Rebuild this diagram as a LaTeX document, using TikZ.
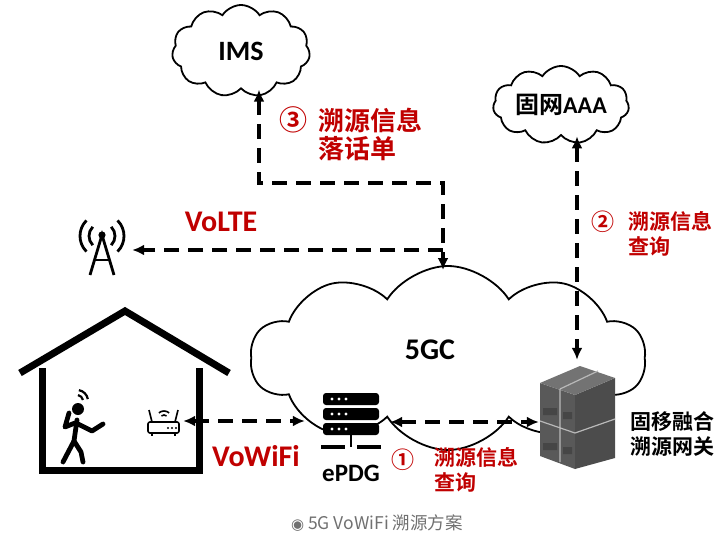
\documentclass[tikz,border=0pt]{standalone}
\usepackage{fontspec}
\setmainfont{Carlito}
\newfontfamily\cjkbf{Noto Sans CJK SC Bold}
\newfontfamily\cjk{Noto Sans CJK SC}
\newfontfamily\dejavu{DejaVu Sans}
\usetikzlibrary{shapes.symbols,arrows.meta,positioning,calc}

\definecolor{tracered}{HTML}{C00000}
\definecolor{capgray}{HTML}{707070}

\begin{document}
\begin{tikzpicture}[x=1pt,y=1pt,>={Latex[length=12pt,width=11pt]},
    netcloud/.style={cloud,draw,line width=1.8pt,fill=white,cloud puffs=#1,
      cloud puff arc=115,cloud ignores aspect,inner sep=0pt},
    netcloud/.default=11,
    link/.style={line width=3.4pt,dash pattern=on 15pt off 9pt},
    hint/.style={text=tracered,font=\cjkbf\fontsize{21}{25}\selectfont,align=left,inner sep=0pt},
    big/.style={font=\bfseries\fontsize{30}{30}\selectfont,inner sep=0pt},
    icon/.style={inner sep=0pt}]
  \useasboundingbox (0,0) rectangle (718,-535);

  % clouds
  \node[netcloud=10,minimum width=395,minimum height=184] (core) at (448,-358) {};
  \node[big] (corename) at (430,-350) {5GC};
  \node[netcloud,minimum width=138,minimum height=92] (ims) at (241,-51)
    {\bfseries\fontsize{28}{28}\selectfont IMS};
  \node[netcloud,minimum width=136,minimum height=78] (aaa) at (561,-105)
    {\cjkbf\fontsize{24}{24}\selectfont 固网{\rmfamily\bfseries AAA}};

  % base station
  \node[icon,minimum width=60,minimum height=62] (ant) at (102,-250) {};
  \begin{scope}[shift={(ant.center)},line width=2.8pt]
    \draw (-12,-25) -- (0,15) -- (12,-25);
    \draw (-7,-10) -- (7,-10);
    \fill (0,15) circle (3.6);
    \foreach \r in {13,22} {
      \draw ([shift={(135:\r)}]0,14) arc[start angle=135,end angle=225,radius=\r];
      \draw ([shift={(-45:\r)}]0,14) arc[start angle=-45,end angle=45,radius=\r];
    }
  \end{scope}

  % house with user and wifi router
  \draw[line width=7pt] (20,-373) -- (125,-311) -- (229,-373);
  \draw[line width=7pt] (42,-368) -- (42,-470) -- (199,-470) -- (199,-368);
  \begin{scope}[line width=4.8pt,line cap=round,line join=round]
    \fill (78,-409) circle (6);
    \draw (77,-420) -- (74,-441);
    \draw (63,-462) -- (74,-441) -- (81,-452) -- (83,-462);
    \draw (75,-423) -- (65,-427) -- (69,-413);
    \draw (78,-424) -- (92,-431) -- (103,-424);
  \end{scope}
  \foreach \r in {6,11}
    \draw[line width=2.2pt] ([shift={(10:\r)}]77,-401) arc[start angle=10,end angle=80,radius=\r];

  \node[icon,minimum width=38,minimum height=30] (router) at (164,-421) {};
  \begin{scope}[shift={(router.center)},line width=1.6pt]
    \draw[rounded corners=2pt] (-16,-1) rectangle (15,-12);
    \draw (-12,-1) -- (-15,11);
    \draw (11,-1) -- (14,11);
    \foreach \r in {4,8}
      \draw ([shift={(50:\r)}]0,2) arc[start angle=50,end angle=130,radius=\r];
    \foreach \x in {4,8,12} \fill (\x,-7) circle (1.2);
    \draw (-12,-12) -- (-12,-15);
    \draw (11,-12) -- (11,-15);
  \end{scope}

  % ePDG
  \node[icon,minimum width=58,minimum height=44] (epdg) at (351,-414) {};
  \begin{scope}[shift={(epdg.center)}]
    \foreach \t in {0,15,30} {
      \fill[rounded corners=3pt] (-28,21-\t) rectangle (28,9-\t);
      \foreach \x in {-19,-12,-5} \fill[white] (\x,15-\t) circle (1.7);
    }
    \draw[line width=2pt] (0,-21) -- (0,-33);
    \draw[line width=4pt] (-30,-33) -- (-6,-33) (6,-33) -- (30,-33);
  \end{scope}
  \node[font=\bfseries\fontsize{25}{25}\selectfont,inner sep=0pt] (epdgname) at (351,-473) {ePDG};

  % convergence gateway
  \node[icon,minimum width=76,minimum height=100] (gw) at (577,-416) {};
  \fill[gray!70!black] (540,-383) -- (575,-395) -- (575,-469) -- (540,-456) -- cycle;
  \fill[gray!60!black] (575,-395) -- (615,-378) -- (615,-458) -- (575,-469) -- cycle;
  \fill[gray!90!black] (540,-383) -- (580,-366) -- (615,-378) -- (575,-395) -- cycle;
  \draw[gray!55,line width=1.2pt] (560,-389) -- (560,-462) (560,-389) -- (598,-371)
    (540,-421) -- (575,-433) -- (615,-419);
  \fill[gray!55!black] (543,-408) rectangle (557,-415) (563,-412) rectangle (572,-419)
    (543,-443) rectangle (557,-450) (563,-447) rectangle (572,-454);
  \node[font=\cjkbf\fontsize{21}{25}\selectfont,align=left,inner sep=0pt,anchor=west] (gwname)
    at (630,-434) {固移融合\\溯源网关};

  % links
  \coordinate (coretop) at (443,-270);
  \coordinate (knee) at (259,-183);
  \draw[link,<->] (knee |- ims.south) -- (knee) -| (coretop);
  \draw[link,->] (coretop |- ant.east) -- (ant.east);
  \draw[link,<->] (gw.north |- aaa.south) -- ($(gw.north)+(0,6)$);
  \draw[link,<->] (router.east) -- ($(router.east -| epdg.west)+(-17,0)$);
  \draw[link,<->] ($(epdg.east)+(10,-8)$) -- ($(gw.west)+(0,-6)$);

  % labels
  \node[hint,font=\cjkbf\fontsize{28}{28}\selectfont] (n3) at (293,-120) {③};
  \node[hint,font=\cjkbf\fontsize{26}{28}\selectfont,anchor=west] (t3) at (318,-134) {溯源信息\\落话单};
  \node[hint,font=\cjkbf\fontsize{23}{23}\selectfont] (n2) at (603,-222) {②};
  \node[hint,anchor=west] (t2) at (628,-234) {溯源信息\\查询};
  \node[hint,font=\cjkbf\fontsize{23}{23}\selectfont] (n1) at (403,-460) {①};
  \node[hint,anchor=west] (t1) at (434,-470) {溯源信息\\查询};
  \node[big,text=tracered] (volte) at (221,-222) {VoLTE};
  \node[big,text=tracered] (vowifi) at (256,-456) {VoWiFi};

  \node[text=capgray,font=\cjk\fontsize{17.5}{17.5}\selectfont,inner sep=0pt] (caption) at (377,-523)
    {{\dejavu\fontsize{15}{15}\selectfont ◉} 5G VoWiFi 溯源方案};
\end{tikzpicture}
\end{document}
